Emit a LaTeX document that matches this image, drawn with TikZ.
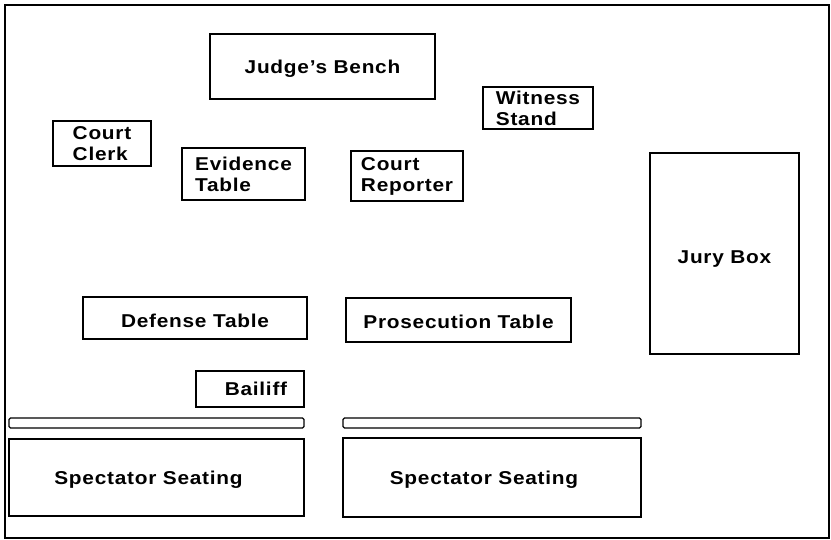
\documentclass[tikz,border=0pt]{standalone}
\usepackage{fontspec}
\newfontfamily\lblfont{Liberation Sans}[LetterSpace=4,FakeStretch=1.12]
\begin{document}
\begin{tikzpicture}[x=1pt,y=-1pt,
  box/.style={draw, line width=1.2pt, inner sep=0pt, align=left,
    font=\lblfont\bfseries\fontsize{18.6}{21}\selectfont},
  single/.style={text height=13.5pt, text depth=0pt},
  rail/.style={draw, line width=1.2pt, rounded corners=1.5pt, inner sep=0pt}]
\useasboundingbox (0,0) rectangle (831,540);
\draw[line width=2.5pt] (5,5) rectangle (829,538);
\node[box, single, minimum width=225, minimum height=65] (judge) at (322.5,66.5) {Judge’s Bench};
\node[box, minimum width=98, minimum height=45] (clerk) at (102,143.5) {Court\\Clerk};
\node[box, minimum width=123, minimum height=52] (evidence) at (243.5,174) {Evidence\\Table};
\node[box, minimum width=112, minimum height=50] (reporter) at (407,176) {Court\\Reporter};
\node[box, minimum width=110, minimum height=42] (witness) at (538,108) {Witness\\Stand};
\node[box, single, minimum width=149, minimum height=201] (jury) at (724.5,253.5) {\raisebox{-3pt}{Jury Box}};
\node[box, single, minimum width=224, minimum height=42] (defense) at (195,318) {\raisebox{-3pt}{Defense Table}};
\node[box, single, minimum width=225, minimum height=44] (prosecution) at (458.5,320) {\raisebox{-1.5pt}{Prosecution Table}};
\node[box, single, minimum width=108, minimum height=36] (bailiff) at (250,389) {\hspace*{12pt}Bailiff};
\node[rail, minimum width=295, minimum height=10] (railL) at (156.5,423) {};
\node[rail, minimum width=298, minimum height=10] (railR) at (492,423) {};
\node[box, single, minimum width=295, minimum height=77] (specL) at (156.5,477.5) {\hspace*{-16pt}Spectator Seating};
\node[box, single, minimum width=298, minimum height=79] (specR) at (492,477.5) {\hspace*{-16pt}Spectator Seating};
\end{tikzpicture}
\end{document}
